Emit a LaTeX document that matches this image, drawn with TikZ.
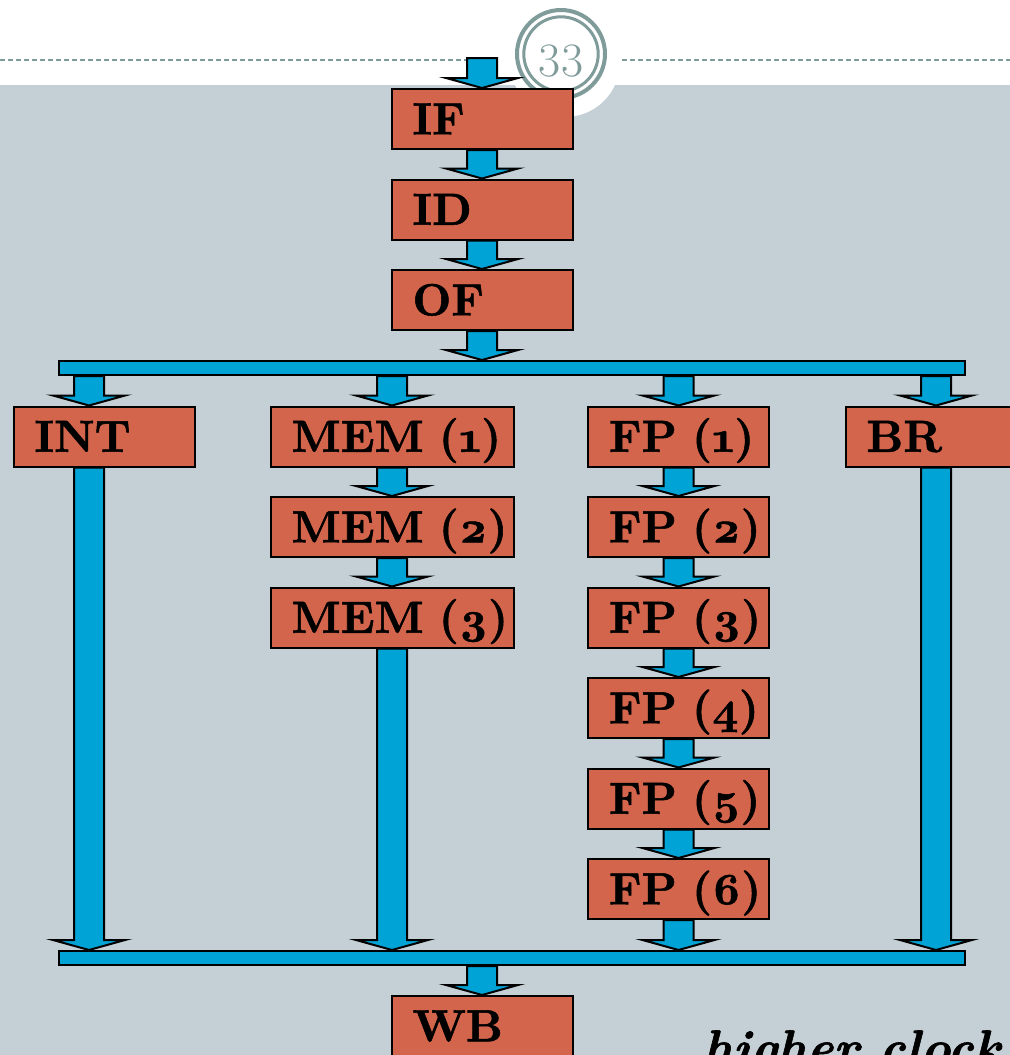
\documentclass[tikz,border=0pt]{standalone}
\usepackage{fontspec}
\usepackage{tikz}
\usetikzlibrary{positioning,calc}
\newfontfamily\stagefont{lmroman10-bold}[Extension=.otf,Numbers=OldStyle,FakeBold=1.2]
\newfontfamily\notefont{lmroman10-bolditalic}[Extension=.otf,FakeBold=1.2]
\definecolor{Slide}{HTML}{C5D0D6}
\definecolor{Brick}{HTML}{D2654B}
\definecolor{Pipe}{HTML}{00A3D6}
\definecolor{Badge}{HTML}{7F9C9A}
\tikzset{
  stage/.style={draw=black,fill=Brick,line width=1pt,minimum height=30pt,text width=69.5pt,align=left,inner xsep=10.5pt,inner ysep=0pt,text height=15.3pt,text depth=0pt,font=\fontsize{22.5}{26}\stagefont,
    execute at begin node=\hbox\bgroup,execute at end node=\egroup},
  widestage/.style={stage,text width=100.5pt},
  bus/.style={draw=black,fill=Pipe,line width=1pt,minimum width=453pt,minimum height=7pt,inner sep=0pt},
  pipe/.style={draw=black,fill=Pipe,line width=1pt,line join=miter},
  rule/.style={draw=Badge,line width=1.2pt,dash pattern=on 2.65pt off 1.35pt},
  note/.style={font=\fontsize{25}{30}\notefont,inner sep=0pt}
}
% fat block arrow from #1 down to the tip at #2
\newcommand{\fatflow}[2]{%
  \draw[pipe] ($(#1)+(-15,0)$) -- ($(#2)+(-15,-10)$) -- ($(#2)+(-36,-10)$) -- (#2)
    -- ($(#2)+(36,-10)$) -- ($(#2)+(15,-10)$) -- ($(#1)+(15,0)$) -- cycle;}
\begin{document}
\begin{tikzpicture}[x=0.5pt,y=-0.5pt,node distance=14.25pt]
  \useasboundingbox (0,0) rectangle (1010,1055);
  \clip (0,0) rectangle (1010,1055);
  \fill[white] (0,0) rectangle (1010,85);
  \fill[Slide] (0,85) rectangle (1010,1055);
  % page badge
  \fill[white] (565,62) circle [radius=27.5pt];
  \draw[rule] (0,60) -- (470,60);
  \draw[rule] (622,60) -- (1010,60);
  \draw[Badge,line width=2pt] (561,54) circle [radius=22pt];
  \draw[Badge,line width=1.5pt] (561,54) circle [radius=18.6pt];
  \node[text=Badge,font=\fontsize{24}{28}\selectfont,inner sep=0pt] (page) at (561,61) {33};
  % front end
  \coordinate (feed) at (482,58);
  \node[stage] (IF) at (482,119) {IF};
  \node[stage,below=of IF] (ID) {ID};
  \node[stage,below=of ID] (OF) {OF};
  \node[bus] (bar1) at (512,368) {};
  % issue columns
  \coordinate (intx) at (89,0);
  \node[stage] (INT) at (104,436.5) {INT};
  \node[widestage] (MEM1) at (392,436.5) {MEM (1)};
  \node[widestage,below=of MEM1] (MEM2) {MEM (2)};
  \node[widestage,below=of MEM2] (MEM3) {MEM (3)};
  \node[stage] (FP1) at (678.5,436.5) {FP (1)};
  \node[stage,below=of FP1] (FP2) {FP (2)};
  \node[stage,below=of FP2] (FP3) {FP (3)};
  \node[stage,below=of FP3] (FP4) {FP (4)};
  \node[stage,below=of FP4] (FP5) {FP (5)};
  \node[stage,below=of FP5] (FP6) {FP (6)};
  \node[stage] (BR) at (936,436.5) {BR};
  \node[bus] (bar2) at (512,958) {};
  \node[stage] (WB) at (482,1026) {WB};
  \node[note,anchor=base west] (clock) at (703,1065) {higher clock};
  % arrows
  \fatflow{feed}{IF.north}
  \fatflow{IF.south}{ID.north}
  \fatflow{ID.south}{OF.north}
  \fatflow{OF.south}{OF.south |- bar1.north}
  \fatflow{intx |- bar1.south}{intx |- INT.north}
  \fatflow{MEM1.north |- bar1.south}{MEM1.north}
  \fatflow{FP1.north |- bar1.south}{FP1.north}
  \fatflow{BR.north |- bar1.south}{BR.north}
  \fatflow{MEM1.south}{MEM2.north}
  \fatflow{MEM2.south}{MEM3.north}
  \fatflow{FP1.south}{FP2.north}
  \fatflow{FP2.south}{FP3.north}
  \fatflow{FP3.south}{FP4.north}
  \fatflow{FP4.south}{FP5.north}
  \fatflow{FP5.south}{FP6.north}
  \fatflow{intx |- INT.south}{intx |- bar2.north}
  \fatflow{MEM3.south}{MEM3.south |- bar2.north}
  \fatflow{FP6.south}{FP6.south |- bar2.north}
  \fatflow{BR.south}{BR.south |- bar2.north}
  \fatflow{WB.north |- bar2.south}{WB.north}
\end{tikzpicture}
\end{document}
